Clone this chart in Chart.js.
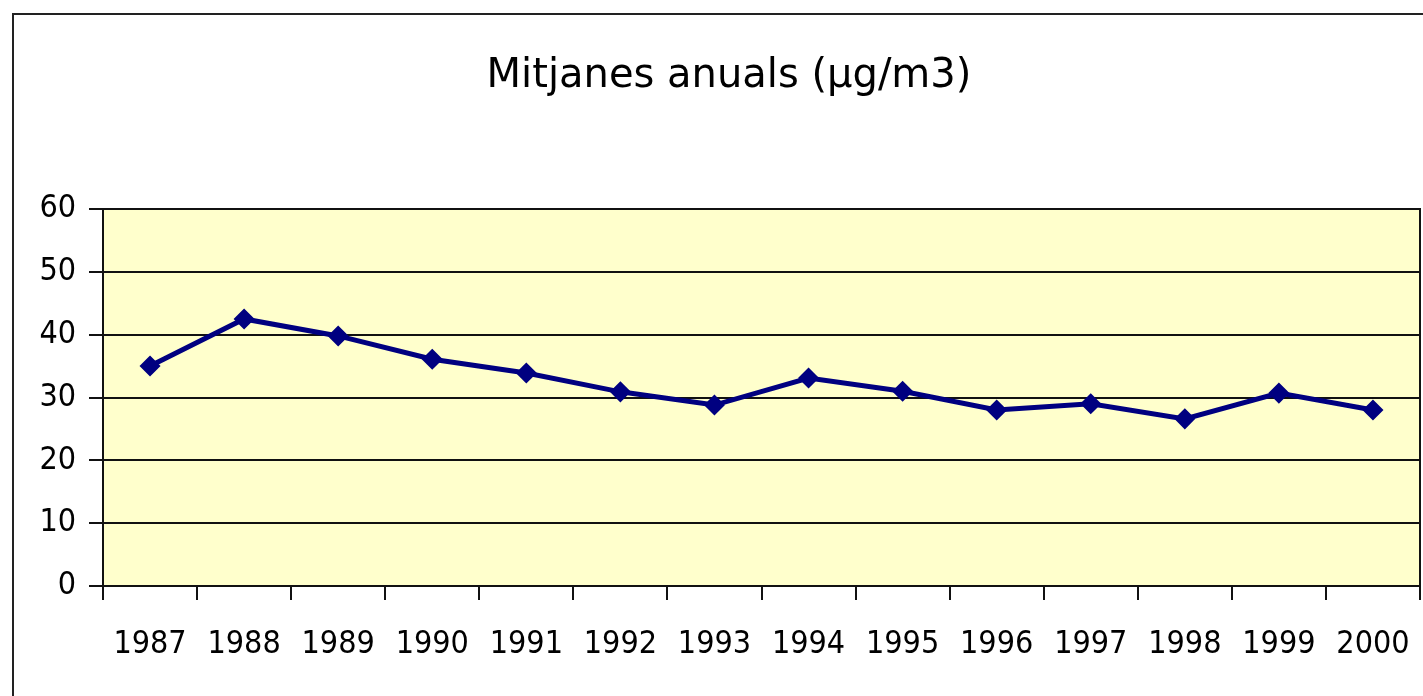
<!DOCTYPE html>
<html>
<head>
<meta charset="utf-8">
<script src="https://cdn.jsdelivr.net/npm/chart.js@4/dist/chart.umd.min.js"></script>
<style>
  body { margin: 0; background: #fff; overflow: hidden; }
  #frame { position: absolute; left: 12px; top: 13px; width: 1440px; height: 720px; border-left: 2px solid #222; border-top: 2px solid #222; }
  #wrap { position: absolute; left: 0; top: 0; width: 1461px; height: 696px; }
</style>
</head>
<body>
<div id="frame"></div>
<div id="wrap"><canvas id="mitjanes"></canvas></div>
<script>
const years = ['1987', '1988', '1989', '1990', '1991', '1992', '1993', '1994', '1995', '1996', '1997', '1998', '1999', '2000'];
const mitjanes = [35, 42.5, 39.8, 36.1, 33.9, 30.9, 28.8, 33.1, 31, 28, 29, 26.6, 30.7, 28];
const yTicks = [0, 10, 20, 30, 40, 50, 60];

const tickFont = { family: "'Liberation Sans Narrow', 'DejaVu Sans Condensed', Arial, sans-serif", size: 32 };

// fons groc i marc de l'area del grafic
const plotFrame = {
    id: 'plotFrame',
    beforeDraw(chart) {
        const a = chart.chartArea, ctx = chart.ctx;
        ctx.save();
        ctx.fillStyle = '#FFFFCC';
        ctx.fillRect(a.left, a.top, a.right - a.left, a.bottom - a.top);
        ctx.restore();
    },
    afterDatasetsDraw(chart) {
        const a = chart.chartArea, ctx = chart.ctx;
        ctx.save();
        ctx.strokeStyle = '#111';
        ctx.lineWidth = 2;
        ctx.strokeRect(a.left, a.top, a.right - a.left, a.bottom - a.top);
        ctx.restore();
    }
};

new Chart(document.getElementById('mitjanes').getContext('2d'), {
    type: 'line',
    data: {
        labels: years,
        datasets: [{
            data: mitjanes,
            borderColor: '#000080',
            backgroundColor: '#000080',
            borderWidth: 5,
            pointStyle: 'rectRot',
            pointRadius: 7,
            tension: 0
        }]
    },
    options: {
        responsive: true,
        maintainAspectRatio: false,
        animation: false,
        layout: { padding: { left: 38, right: 41, top: 0, bottom: 0 } },
        plugins: {
            legend: { display: false },
            tooltip: { enabled: false },
            title: {
                display: true,
                text: 'Mitjanes anuals (µg/m3)',
                color: '#000',
                font: { family: "'DejaVu Sans', sans-serif", size: 40, weight: 'normal' },
                padding: { top: 53, bottom: 108 }
            }
        },
        scales: {
            x: {
                offset: true,
                grid: { offset: true, drawOnChartArea: false, tickLength: 14, color: '#111', lineWidth: 2 },
                border: { color: '#111', width: 2 },
                ticks: { color: '#000', font: tickFont, padding: 25, maxRotation: 0, autoSkip: false },
                afterFit(scale) { scale.height = 110; scale.paddingLeft = 0; scale.paddingRight = 0; }
            },
            y: {
                min: 0,
                max: 60,
                afterBuildTicks(scale) { scale.ticks = yTicks.map(v => ({ value: v })); },
                grid: { color: '#111', lineWidth: 2, tickLength: 14 },
                border: { color: '#111', width: 2 },
                ticks: { color: '#000', font: tickFont, padding: 13 },
                afterFit(scale) { scale.width = 65; }
            }
        }
    },
    plugins: [plotFrame]
});
</script>
</body>
</html>
